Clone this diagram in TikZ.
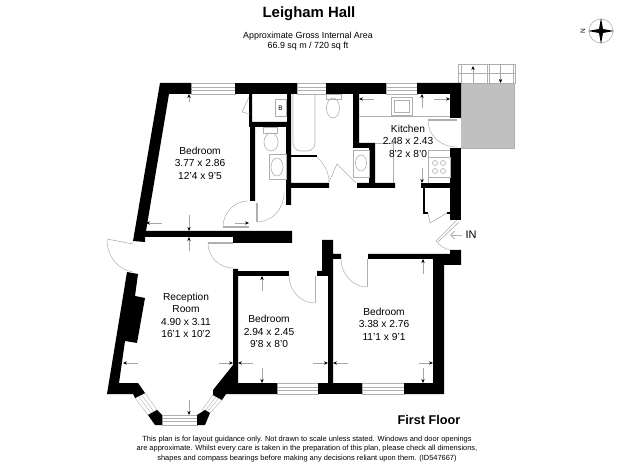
\documentclass[tikz,border=0pt]{standalone}
\usepackage{fontspec}
\setmainfont{Liberation Sans}
\usetikzlibrary{arrows.meta, calc}
\definecolor{fixgrey}{RGB}{175,175,175}
\definecolor{terracegrey}{RGB}{192,192,192}
\newcommand{\pane}[4]{%
  \draw[glazing, fill=white] #1 -- #2 -- #3 -- #4 -- cycle;
  \draw[glazing] ($#1!.35!#4$) -- ($#2!.35!#3$);
  \draw[glazing] ($#1!.65!#4$) -- ($#2!.65!#3$);
}
\tikzset{
    wall/.style={fill=black, draw=none},
    fixture/.style={draw=fixgrey, line width=0.6pt},
    glazing/.style={draw=fixgrey, line width=0.4pt},
    doorleaf/.style={draw=fixgrey, line width=1.1pt},
    doorarc/.style={draw=fixgrey, line width=0.5pt},
    measure/.style={draw=gray!70, line width=0.4pt, -{Stealth[length=4pt,width=3.4pt,black]}},
    roomlabel/.style={align=center, font=\fontsize{10.2}{12.4}\selectfont, inner sep=0pt},
    smalllabel/.style={align=center, font=\fontsize{8.9}{10}\selectfont, inner sep=0pt},
    footlabel/.style={align=center, font=\fontsize{7.45}{9.3}\selectfont, inner sep=0pt},
}
\begin{document}
\begin{tikzpicture}[x=1pt,y=-1pt]
\useasboundingbox (0,0) rectangle (619,465);
% terrace
\fill[terracegrey] (461,83) rectangle (515,148);
\draw[fixture] (461,148) -- (515,148);
\draw[fixture] (514.5,83) -- (514.5,148);
\draw[fixture] (458,64) rectangle (515,83);
\draw[fixture] (458,73) -- (515,73);
\draw[fixture] (461,64) -- (461,83);
\draw[fixture] (487,64) -- (487,83);
\draw[fixture] (489,64) -- (489,83);
\draw[fixture] (513,64) -- (513,83);
% windows
\pane{(191,83)}{(235,83)}{(235,94)}{(191,94)}
\pane{(297,83)}{(326,83)}{(326,94)}{(297,94)}
\pane{(386,83)}{(417,83)}{(417,94)}{(386,94)}
\pane{(277,383)}{(318,383)}{(318,394)}{(277,394)}
\pane{(362,383)}{(404,383)}{(404,394)}{(362,394)}
\pane{(162,415)}{(197,415)}{(197,425)}{(162,425)}
\pane{(145,393)}{(157,410)}{(148,415)}{(135,398)}
\pane{(213,395)}{(202,410)}{(210,413)}{(222,400)}
% outer walls
\fill[wall] (160,83) -- (191,83) -- (191,94) -- (169,94) -- (146,231) -- (233,231) -- (292,231) -- (292,243) -- (233,243) -- (233,237) -- (145,237) -- (145,242) -- (133,241) -- cycle;
\fill[wall] (235,83) rectangle (297,94);
\fill[wall] (326,83) rectangle (386,94);
\fill[wall] (417,83) -- (461,83) -- (461,118) -- (450,118) -- (450,94) -- (417,94) -- cycle;
\fill[wall] (450,148) rectangle (461,220);
\fill[wall] (421,183) rectangle (461,188);
% inner walls, top half
\fill[wall] (249,94) -- (252,94) -- (252,122) -- (287,122) -- (287,94) -- (291,94) -- (291,183) -- (329,183) -- (329,188) -- (291,188) -- (291,205) -- (286,205) -- (286,127) -- (255,127) -- (255,201) -- (250,201) -- (250,127) -- (249,127) -- cycle;
\fill[wall] (353,94) -- (359,94) -- (359,143) -- (375,143) -- (375,183) -- (395,183) -- (395,188) -- (357,188) -- (357,183) -- (369,183) -- (369,148) -- (353,148) -- cycle;
\fill[wall] (291,155) rectangle (317,157);
\fill[wall] (423,188) rectangle (425,213);
\fill[wall] (423,212) rectangle (428,214);
\fill[wall] (447,212) rectangle (450,214);
% reception room
\fill[wall] (127,272) -- (138,274) -- (135,296) -- (145,298) -- (137,343) -- (125,341) -- (119,383) -- (138,383) -- (145,393) -- (135,398) -- (133,394) -- (107,394) -- cycle;
\fill[wall] (148,415) -- (157,410) -- (162,415) -- (162,425) -- (155,425) -- cycle;
\fill[wall] (197,415) -- (205,410) -- (210,413) -- (205,425) -- (197,425) -- cycle;
\fill[wall] (233,365) -- (233,269) -- (238,269) -- (238,383) -- (277,383) -- (277,394) -- (226,394) -- (222,400) -- (213,395) -- (213,390) -- cycle;
% lower bedrooms
\fill[wall] (233,271) rectangle (289,276);
\fill[wall] (318,383) rectangle (362,394);
\fill[wall] (404,383) -- (433,383) -- (433,259) -- (368,259) -- (368,254) -- (450,254) -- (450,250) -- (461,250) -- (461,265) -- (444,265) -- (444,394) -- (404,394) -- cycle;
\fill[wall] (322,240) -- (333,240) -- (333,254) -- (341,254) -- (341,259) -- (333,259) -- (333,383) -- (328,383) -- (328,276) -- (317,276) -- (317,271) -- (322,271) -- cycle;
% doors
\draw[doorleaf] (257,203) -- (257,222);
\draw[doorarc] (257,222) .. controls (272,222) and (284,209) .. (284,193);
\draw[doorleaf] (223,227) -- (249,227);
\draw[doorarc] (223,227) .. controls (223,213) and (234,201) .. (248,201);
\draw[fixture] (329,182) -- (337,164) -- (356,183);
\draw[doorarc] (317,157) .. controls (324,164) and (329,172) .. (329,182);
\draw[doorleaf] (428,120) -- (457,120);
\draw[doorarc] (428,120) .. controls (428,135) and (440,147) .. (457,147);
\draw[fixture] (428,213) -- (430,223) -- (447,213);
\draw[fixture] (457,220) -- (436,241);
\draw[fixture] (459,222) -- (438,242);
\draw[doorarc] (436,241) .. controls (440,246) and (445,249) .. (450,250);
\draw[fixture] (107,239) -- (133,244);
\draw[doorarc] (107,240) .. controls (107,256) and (118,270) .. (133,272);
\draw[doorleaf] (208,243) -- (233,243);
\draw[doorarc] (208,243) .. controls (208,257) and (219,268) .. (233,268);
\draw[doorleaf] (315.5,276) -- (315.5,303);
\draw[doorarc] (289,276) .. controls (289,291) and (301,303) .. (315,303);
\draw[doorleaf] (367.5,259) -- (367.5,287);
\draw[doorarc] (341,259) .. controls (341,274) and (353,287) .. (367,287);
\draw[fixture] (249,97) -- (242,112) -- (250,114);
% bathroom and ensuite fittings
\draw[fixture, rounded corners=8pt] (293,94) -- (293,151) -- (315,151) -- (315,94);
\draw[fixture] (326,94) rectangle (341,99);
\draw[fixture] (333,108) ellipse (6.5 and 10);
\draw[fixture] (263,127) rectangle (277,133);
\draw[fixture] (271,142) ellipse (7 and 9);
\draw[fixture] (269,154) rectangle (286,179);
\draw[fixture] (277,167) ellipse (6 and 9);
\draw[fixture] (275,99) rectangle (286,116);
\node[font=\fontsize{6.5}{7}\selectfont, inner sep=0pt] (boiler) at (280.5,108) {B};
\draw[fixture] (353,150) rectangle (369,177);
\draw[fixture] (361,163) ellipse (5.5 and 8);
% kitchen fittings
\draw[fixture] (359,116) -- (450,116);
\draw[fixture] (391,97) rectangle (412,115);
\draw[fixture] (394,100) rectangle (409,112);
\draw[fixture] (375,143) -- (393,143) -- (393,183);
\draw[fixture] (428,183) -- (428,150) -- (450,150);
\draw[fixture] (428,157) rectangle (450,177);
\foreach \cx in {435,443}
  \foreach \cy in {163,171}
    \draw[fixture] (\cx,\cy) circle (2.5);
% measure arrows
\foreach \xa/\ya/\xb/\yb in {189/102/189/94, 189/215/189/231, 189/251/189/237, 162/223/146/223, 235/223/249/223,
    374/99/359/99, 434/99/450/99, 422/108/422/94, 422/168/422/183, 473/83/473/66, 500.5/64/500.5/83,
    423/274/423/259, 423/368/423/383, 419/363/433/363, 348/363/333/363, 313/363/328/363,
    253/363/238/363, 262/291/262/276, 262/368/262/383,
    138/363/123/363, 219/363/233/363, 189/400/189/415}
  \draw[measure] (\xa,\ya) -- (\xb,\yb);
% compass
\draw[gray!70, line width=0.5pt] (601,31) circle (12);
\fill (601,18) -- (603,29) -- (614,31) -- (603,33) -- (601,44) -- (599,33) -- (588,31) -- (599,29) -- cycle;
\node[font=\fontsize{6.5}{7}\selectfont, rotate=90, inner sep=0pt] (north) at (583,31) {N};
% labels
\node[font=\bfseries\fontsize{14.9}{16}\selectfont, inner sep=0pt] (title) at (309,14) {Leigham Hall};
\node[smalllabel] (area) at (308,41) {Approximate Gross Internal Area\\66.9 sq m / 720 sq ft};
\node[roomlabel] (bedrooma) at (200,163) {Bedroom\\3.77 x 2.86\\12'4 x 9'5};
\node[roomlabel] (kitchen) at (408,141) {Kitchen\\2.48 x 2.43\\8'2 x 8'0};
\node[roomlabel] (reception) at (186,315.5) {Reception\\Room\\4.90 x 3.11\\16'1 x 10'2};
\node[roomlabel] (bedroomb) at (269,331.5) {Bedroom\\2.94 x 2.45\\9'8 x 8'0};
\node[roomlabel] (bedroomc) at (384,324) {Bedroom\\3.38 x 2.76\\11'1 x 9'1};
\node[font=\fontsize{11}{12}\selectfont, inner sep=0pt] (entry) at (471,235) {IN};
\draw[gray!60, line width=0.9pt, -{Straight Barb[length=4pt,width=8pt]}] (462,235) -- (450,235);
\node[font=\bfseries\fontsize{12.7}{14}\selectfont, inner sep=0pt] (floor) at (429,420) {First Floor};
\node[footlabel] (notes) at (307,449) {This plan is for layout guidance only. Not drawn to scale unless stated. Windows and door openings\\are approximate. Whilst every care is taken in the preparation of this plan, please check all dimensions,\\shapes and compass bearings before making any decisions reliant upon them. (ID547667)};
\end{tikzpicture}
\end{document}
